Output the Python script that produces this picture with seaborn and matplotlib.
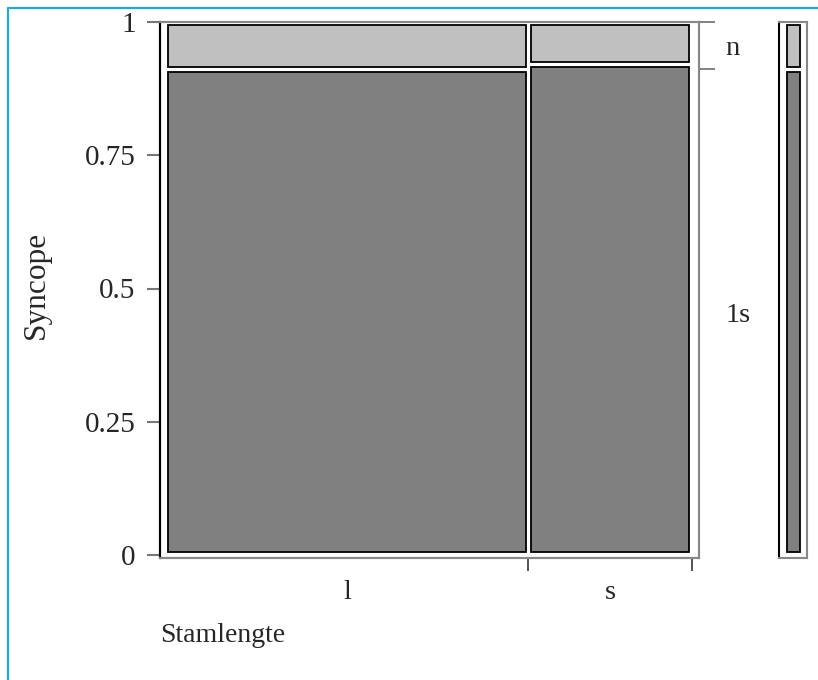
import matplotlib
matplotlib.use("Agg")
import matplotlib.pyplot as plt
from matplotlib.lines import Line2D
import seaborn as sns

# Mosaic of Syncope by Stamlengte
stamlengte = ["l", "s"]
stam_share = [0.69, 0.31]          # column widths (share of observations)
syncope_levels = ["1s", "n"]       # bottom to top
share_1s = [0.911, 0.920]          # share of "1s" within each column
share_1s_all = 0.911               # marginal share of "1s"

y_ticks = [0, 0.25, 0.5, 0.75, 1]
y_tick_labels = ["0", "0.25", "0.5", "0.75", "1"]

sns.set_style("white")
plt.rcParams["font.family"] = ["Liberation Serif", "DejaVu Serif"]
plt.rcParams["text.color"] = "#222222"

palette = sns.color_palette(["#808080", "#c0c0c0"])
W, H = 818, 680
fig = plt.figure(figsize=(W / 100, H / 100), dpi=100)

ax = fig.add_axes([160 / W, (H - 558) / H, 539 / W, 536 / H])
axm = fig.add_axes([779 / W, (H - 558) / H, 28 / W, 536 / H])

gx, gy = 0.0048, 0.0053
x0_pix, x_span = 165.5, 526.0
ax.set_xlim((160 - x0_pix) / x_span, (699 - x0_pix) / x_span)
ax.set_ylim(-3 / 533, 1.0)

edges = [0.0]
for w in stam_share:
    edges.append(edges[-1] + w)

for i, name in enumerate(stamlengte):
    left = edges[i] + gx
    width = stam_share[i] - 2 * gx
    p = share_1s[i]
    ax.bar(left, p - 2 * gy, width=width, bottom=gy, align="edge",
           color=palette[0], edgecolor="black", linewidth=1.3)
    ax.bar(left, 1 - p - 2 * gy, width=width, bottom=p + gy, align="edge",
           color=palette[1], edgecolor="black", linewidth=1.3)

# category labels at cell centres, boundary ticks at the edges
centers = [(edges[i] + edges[i + 1]) / 2 for i in range(len(stamlengte))]
ax.set_xticks(centers)
ax.set_xticklabels(stamlengte, fontsize=20.5)
ax.set_xticks(edges[1:], minor=True)
ax.tick_params(axis="x", which="major", length=0, pad=16)
ax.tick_params(axis="x", which="minor", length=9.5, width=1.2,
               color="#333333", direction="out", bottom=True)

ax.set_yticks(y_ticks)
ax.set_yticklabels(y_tick_labels, fontsize=21)
ax.tick_params(axis="y", which="major", length=9.5, width=1.5,
               color="#777777", pad=8, left=True)

# right-hand level labels based on the marginal split
axr = ax.twinx()
axr.set_ylim(ax.get_ylim())
axr.set_yticks([share_1s_all / 2, (1 + share_1s_all) / 2])
axr.set_yticklabels(syncope_levels, fontsize=20.5)
axr.set_yticks([share_1s_all, 1.0], minor=True)
axr.tick_params(axis="y", which="major", length=0, pad=19)
axr.tick_params(axis="y", which="minor", length=11.5, width=1.3,
                color="#777777", right=True)

for a in (ax, axr):
    for s in a.spines.values():
        s.set_color("#888888")
        s.set_linewidth(1.5)
    a.spines["left"].set_color("black")

ax.set_xlabel("Stamlengte", fontsize=20, loc="left")
ax.xaxis.set_label_coords(0.0, -0.145)
ax.xaxis.label.set_va("center")
ax.set_ylabel("Syncope", fontsize=22.5)
ax.yaxis.set_label_coords(-0.23, 0.51)
ax.yaxis.label.set_va("center")

# marginal bar
axm.set_xlim(0, 1)
axm.set_ylim(ax.get_ylim())
axm.bar(0.286, share_1s_all - 2 * gy, width=0.464, bottom=gy, align="edge",
        color=palette[0], edgecolor="black", linewidth=1.3)
axm.bar(0.286, 1 - share_1s_all - 2 * gy, width=0.464,
        bottom=share_1s_all + gy, align="edge",
        color=palette[1], edgecolor="black", linewidth=1.3)
axm.set_xticks([])
axm.set_yticks([])
for s in axm.spines.values():
    s.set_color("#888888")
    s.set_linewidth(1.5)
axm.spines["left"].set_color("black")

# cyan frame at the top and left
cyan = "#13aee8"
fig.add_artist(Line2D([8 / W, 1], [1 - 8 / H, 1 - 8 / H], color=cyan, lw=1.5,
                      transform=fig.transFigure))
fig.add_artist(Line2D([8 / W, 8 / W], [0, 1 - 8 / H], color=cyan, lw=1.5,
                      transform=fig.transFigure))

fig.savefig("out.png", dpi=100, facecolor="white")
